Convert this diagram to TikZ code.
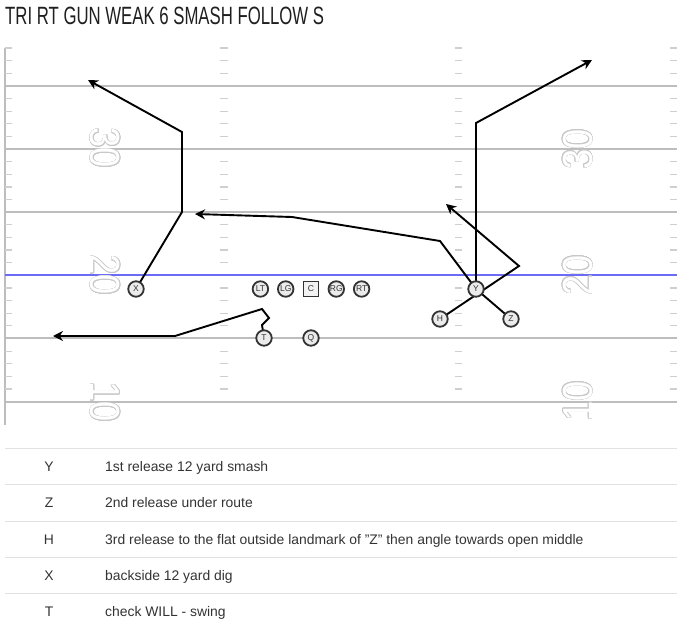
\documentclass[tikz,border=0pt]{standalone}
\usepackage{fontspec}
\setmainfont{Liberation Sans}
\usepackage{contour}
\usepackage{graphicx}
\usetikzlibrary{arrows.meta,positioning,backgrounds}
\definecolor{FieldLine}{HTML}{BDBDBD}
\definecolor{HashMark}{HTML}{CFCFCF}
\definecolor{Scrimmage}{HTML}{6B6BF5}
\definecolor{NumGray}{HTML}{C8C8C8}
\definecolor{Ink}{HTML}{333333}
\definecolor{RowLine}{HTML}{E2E2E2}
\pgfdeclarelayer{field}
\pgfsetlayers{field,background,main}
\contourlength{0.45pt}
\contournumber{16}
\newcommand\yardnum[1]{\scalebox{0.86}[1]{\contour{NumGray}{\textcolor{white}{#1}}}}

\begin{document}
\begin{tikzpicture}[x=1pt,y=-1pt,on grid,
  player/.style={circle, draw=Ink, fill=black!8, line width=1.8pt,
                 minimum size=15.5pt, inner sep=0pt, text=Ink,
                 font=\fontsize{8.5}{8.5}\selectfont},
  snapbox/.style={rectangle, draw=Ink, fill=black!5, line width=1.8pt,
                  minimum size=15pt, inner sep=0pt, text=Ink,
                  font=\fontsize{8.5}{8.5}\selectfont},
  route/.style={draw=black, line width=1.9pt,
                -{Stealth[length=10pt,width=10pt]}},
  yardline/.style={draw=FieldLine, line width=1.8pt},
  hashmark/.style={draw=HashMark, line width=1.2pt},
  yardnum/.style={inner sep=0pt, font=\fontsize{42}{42}\selectfont},
  rowkey/.style={inner sep=0pt, anchor=base, text=Ink,
                 font=\fontsize{13.9}{13.9}\selectfont},
  rowtext/.style={inner sep=0pt, anchor=base west, text=Ink,
                  font=\fontsize{13.9}{13.9}\selectfont},
  rowline/.style={draw=RowLine, line width=1pt}
]
  \useasboundingbox (0,0) rectangle (677,628);

  % title
  \node[anchor=base west, inner sep=0pt, text=black!88] (title) at (5,25)
    {\scalebox{0.67}[1]{\fontsize{25}{25}\selectfont TRI RT GUN WEAK 6 SMASH FOLLOW S}};

  % field
  \begin{pgfonlayer}{field}
    \draw[draw=FieldLine, line width=1.4pt] (5,48) -- (5,425);
    \foreach \k in {0,...,27}{
      \pgfmathtruncatemacro\onyard{mod(\k+2,5)}
      \ifnum\onyard=0\else
        \pgfmathsetmacro\ty{48+12.63*\k}
        \draw[hashmark] (5,\ty) -- (12,\ty);
        \draw[hashmark] (220,\ty) -- (228,\ty);
        \draw[hashmark] (455,\ty) -- (462,\ty);
        \draw[hashmark] (670,\ty) -- (677,\ty);
      \fi
    }
    \foreach \y in {86,149,212,338,402}
      \draw[yardline] (5,\y) -- (677,\y);
    \draw[draw=Scrimmage, line width=1.6pt] (5,275) -- (677,275);
    \node[yardnum, rotate=-90] (num-30l) at (105,148) {\yardnum{30}};
    \node[yardnum, rotate=-90] (num-20l) at (105,275) {\yardnum{20}};
    \node[yardnum, rotate=-90] (num-10l) at (105,402) {\yardnum{10}};
    \node[yardnum, rotate=90] (num-30r) at (578,149) {\yardnum{30}};
    \node[yardnum, rotate=90] (num-20r) at (578,275) {\yardnum{20}};
    \node[yardnum, rotate=90] (num-10r) at (578,401) {\yardnum{10}};
  \end{pgfonlayer}

  % players
  \node[snapbox] (c) at (311,289) {C};
  \node[player, left=25.3pt of c] (lg) {LG};
  \node[player, left=25.3pt of lg] (lt) {LT};
  \node[player, right=25.3pt of c] (rg) {RG};
  \node[player, right=25.3pt of rg] (rt) {RT};
  \node[player, below=49pt of c] (q) {Q};
  \node[player, left=47pt of q] (t) {T};
  \node[player] (x) at (136,289) {X};
  \node[player] (y) at (476,289) {Y};
  \node[player] (h) at (440,319) {H};
  \node[player] (z) at (511,319) {Z};

  % routes
  \begin{scope}[on background layer]
    \coordinate (x-stem) at (182,212);
    \coordinate (x-break) at (182,132);
    \coordinate (x-end) at (88,80);
    \draw[route] (x.center) -- (x-stem) -- (x-break) -- (x-end);

    \coordinate (y-break) at (476,123);
    \coordinate (y-end) at (592,60);
    \draw[route] (y.center) -- (y-break) -- (y-end);

    \coordinate (h-flat) at (519,266);
    \coordinate (h-end) at (446,204);
    \draw[route] (h.center) -- (h-flat) -- (h-end);

    \coordinate (z-cross) at (440,241);
    \coordinate (z-bend) at (292,217);
    \coordinate (z-end) at (195,214);
    \draw[route] (z.center) -- (y.center) -- (z-cross) -- (z-bend) -- (z-end);

    \coordinate (t-a) at (262,325);
    \coordinate (t-b) at (269,318);
    \coordinate (t-c) at (262,309);
    \coordinate (t-turn) at (175,336);
    \coordinate (t-end) at (53,336);
    \draw[route] (t.center) -- (t-a) -- (t-b) -- (t-c) -- (t-turn) -- (t-end);
  \end{scope}

  % assignments
  \foreach \y in {448,484,521,557,593}
    \draw[rowline] (5,\y) -- (677,\y);
  \foreach \pos/\who/\what in {
      471/Y/{1st release 12 yard smash},
      507/Z/{2nd release under route},
      544/H/{3rd release to the flat outside landmark of "Z" then angle towards open middle},
      580/X/{backside 12 yard dig},
      616/T/{check WILL - swing}}{
    \node[rowkey] (key-\who) at (49,\pos) {\who};
    \node[rowtext] (txt-\who) at (105,\pos) {\what};
  }
\end{tikzpicture}
\end{document}
